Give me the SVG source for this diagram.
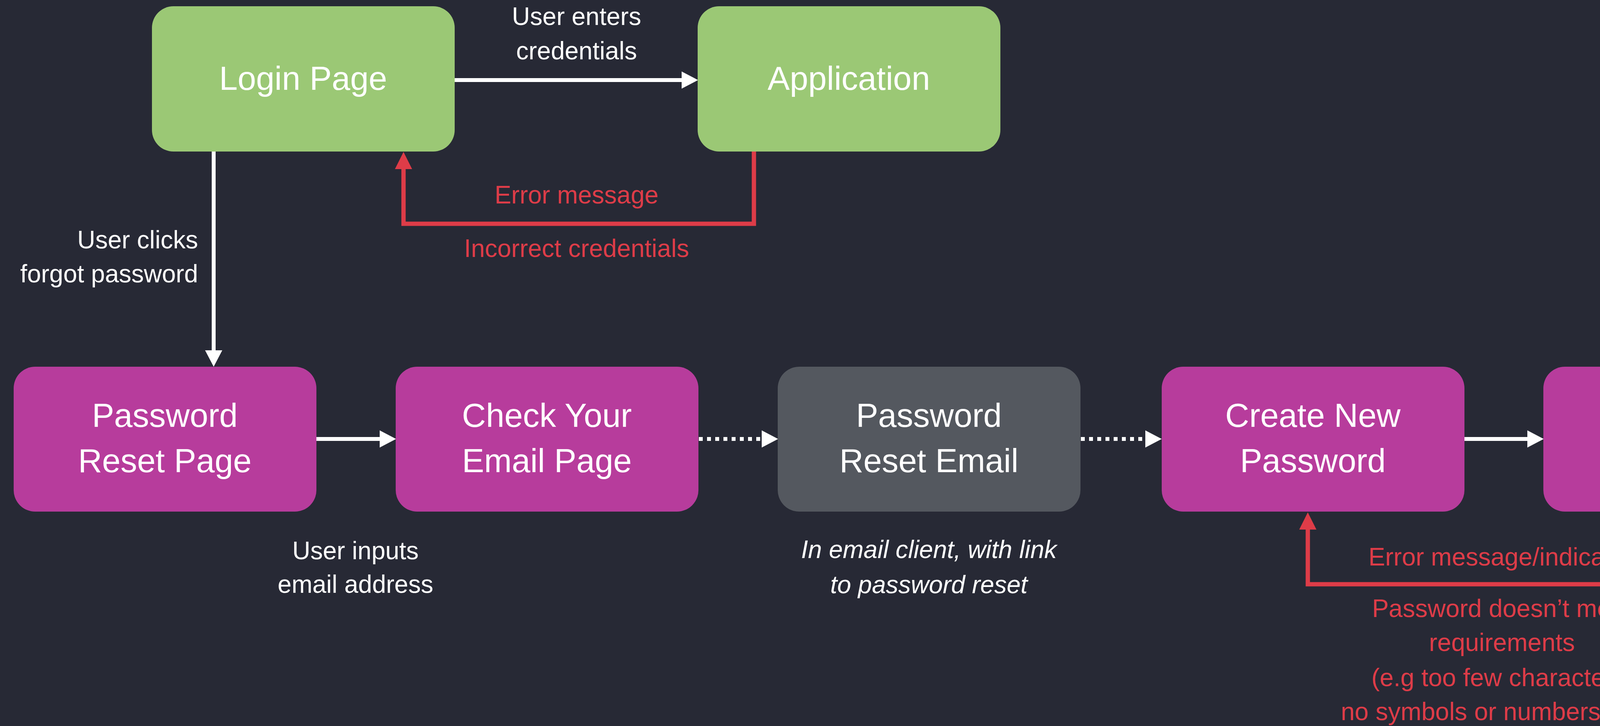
<svg xmlns="http://www.w3.org/2000/svg" width="4758" height="1859" viewBox="0 0 4758 1859">
<defs>
<style>
.bg{fill:#272935}
.green{fill:#9BC875}
.mag{fill:#B73C9C}
.gray{fill:#54585F}
.nt{font-family:"Liberation Sans",Arial,sans-serif;font-size:85px;fill:#FFFFFF;text-anchor:middle}
.lb{font-family:"Liberation Sans",Arial,sans-serif;font-size:64px;fill:#FFFFFF;text-anchor:middle}
.red{fill:#DE3C48}
.it{font-style:italic}
.w{stroke:#FFFFFF;stroke-width:10;fill:none}
.dot{stroke-dasharray:10 11}
.r{stroke:#DE3C48;stroke-width:11;fill:none}
</style>
<marker id="aw" markerUnits="userSpaceOnUse" markerWidth="42" markerHeight="44" refX="0" refY="22" orient="auto" viewBox="0 0 42 44">
<path d="M0,0 L42,22 L0,44 Z" fill="#FFFFFF"/>
</marker>
<marker id="ar" markerUnits="userSpaceOnUse" markerWidth="44" markerHeight="44" refX="0" refY="22" orient="auto" viewBox="0 0 44 44">
<path d="M0,0 L44,22 L0,44 Z" fill="#DE3C48"/>
</marker>
</defs>
<rect class="bg" x="0" y="0" width="4758" height="1859"/>

<g id="connectors">
<path class="w" d="M1164,205 H1745" marker-end="url(#aw)"/>
<path class="w" d="M547,388 V897" marker-end="url(#aw)"/>
<path class="w" d="M810,1124 H972" marker-end="url(#aw)"/>
<path class="w dot" d="M1789,1124 H1950" marker-end="url(#aw)"/>
<path class="w dot" d="M2767,1124 H2932" marker-end="url(#aw)"/>
<path class="w" d="M3749,1124 H3910" marker-end="url(#aw)"/>
<path class="r" d="M1930,388 V573 H1033 V433" marker-end="url(#ar)"/>
<path class="r" d="M4360,1310 V1496 H3348 V1356" marker-end="url(#ar)"/>
</g>

<g id="login-page">
<rect class="green" x="389" y="16" width="775" height="372" rx="55" ry="55"/>
<text class="nt" x="776" y="230">Login Page</text>
</g>
<g id="application">
<rect class="green" x="1786" y="16" width="775" height="372" rx="55" ry="55"/>
<text class="nt" x="2173" y="230">Application</text>
</g>
<g id="password-reset-page">
<rect class="mag" x="35" y="939" width="775" height="371" rx="55" ry="55"/>
<text class="nt" x="422" y="1093">Password</text>
<text class="nt" x="422" y="1209">Reset Page</text>
</g>
<g id="check-email-page">
<rect class="mag" x="1013" y="939" width="775" height="371" rx="55" ry="55"/>
<text class="nt" x="1400" y="1093">Check Your</text>
<text class="nt" x="1400" y="1209">Email Page</text>
</g>
<g id="password-reset-email">
<rect class="gray" x="1991" y="939" width="775" height="371" rx="55" ry="55"/>
<text class="nt" x="2378" y="1093">Password</text>
<text class="nt" x="2378" y="1209">Reset Email</text>
</g>
<g id="create-new-password">
<rect class="mag" x="2974" y="939" width="775" height="371" rx="55" ry="55"/>
<text class="nt" x="3361" y="1093">Create New</text>
<text class="nt" x="3361" y="1209">Password</text>
</g>
<g id="change-confirmation">
<rect class="mag" x="3951" y="939" width="775" height="371" rx="55" ry="55"/>
<text class="nt" x="4338" y="1093">Change</text>
<text class="nt" x="4338" y="1209">Confirmation</text>
</g>

<g id="labels">
<text class="lb" x="1476" y="64">User enters</text>
<text class="lb" x="1476" y="152">credentials</text>
<text class="lb red" x="1476" y="521">Error message</text>
<text class="lb red" x="1476" y="658">Incorrect credentials</text>
<text class="lb" x="507" y="636" style="text-anchor:end">User clicks</text>
<text class="lb" x="507" y="723" style="text-anchor:end">forgot password</text>
<text class="lb" x="910" y="1432">User inputs</text>
<text class="lb" x="910" y="1518">email address</text>
<text class="lb it" x="2378" y="1429">In email client, with link</text>
<text class="lb it" x="2378" y="1519">to password reset</text>
<text class="lb red" x="3843" y="1448">Error message/indicator</text>
<text class="lb red" x="3845" y="1580">Password doesn’t meet</text>
<text class="lb red" x="3845" y="1667">requirements</text>
<text class="lb red" x="3845" y="1757">(e.g too few characters,</text>
<text class="lb red" x="3845" y="1844">no symbols or numbers, etc.)</text>
</g>
</svg>
